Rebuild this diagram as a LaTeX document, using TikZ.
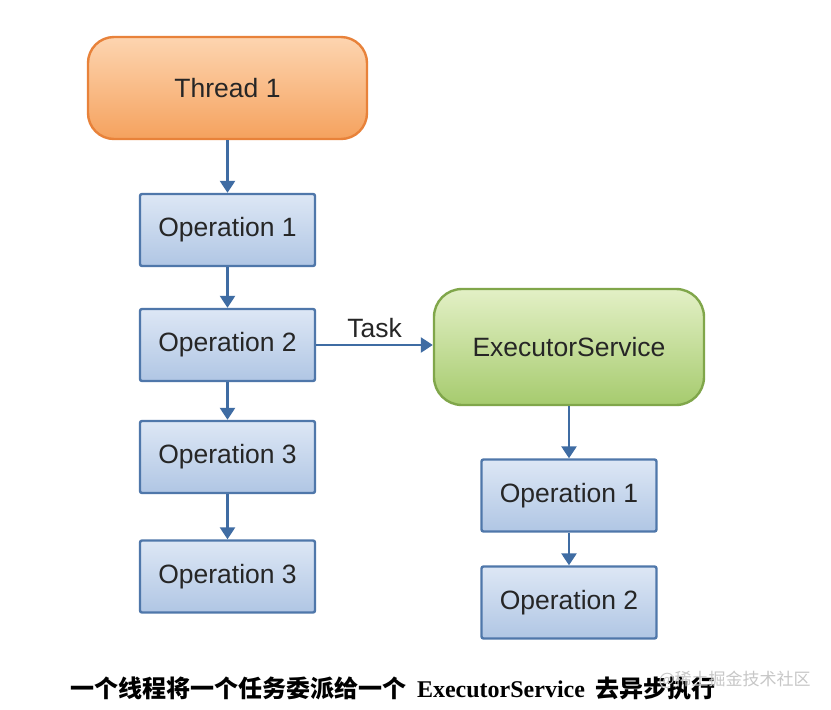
\documentclass[tikz,border=0pt]{standalone}
\usepackage{fontspec}
\setmainfont{Liberation Sans}
\newfontfamily\cjk{Noto Sans CJK SC}
\newfontfamily\tms{Liberation Serif}
\usetikzlibrary{arrows.meta}
\definecolor{arrowc}{HTML}{3F6CA3}
\definecolor{opborder}{HTML}{4F77AA}
\definecolor{optop}{HTML}{DDE7F5}
\definecolor{opbot}{HTML}{B0C6E4}
\definecolor{thborder}{HTML}{E8823A}
\definecolor{thtop}{HTML}{FDD5B0}
\definecolor{thbot}{HTML}{F5A25E}
\definecolor{esborder}{HTML}{80A64A}
\definecolor{estop}{HTML}{E3F0C6}
\definecolor{esbot}{HTML}{A6CB6E}
\tikzset{
  opbox/.style={draw=opborder, line width=2.4pt, top color=optop, bottom color=opbot,
    minimum width=175pt, minimum height=72pt, rounded corners=2pt, inner sep=0pt,
    font=\fontsize{26.5}{30}\selectfont, text=black!85},
  thbox/.style={draw=thborder, line width=2.4pt, top color=thtop, bottom color=thbot,
    minimum width=279pt, minimum height=102pt, rounded corners=26pt, inner sep=0pt,
    font=\fontsize{26.5}{30}\selectfont, text=black!85},
  esbox/.style={draw=esborder, line width=2.4pt, top color=estop, bottom color=esbot,
    minimum width=270pt, minimum height=116pt, rounded corners=28pt, inner sep=0pt,
    font=\fontsize{26.5}{30}\selectfont, text=black!85},
  flow/.style={draw=arrowc, line width=2.6pt, -{Triangle[length=12pt,width=15pt]}},
}
\begin{document}
\begin{tikzpicture}[x=1pt,y=-1pt]
\useasboundingbox[fill=white] (0,0) rectangle (831,710);
\node[thbox] (th) at (227.5,88) {Thread 1};
\node[opbox] (o1) at (227.5,230) {Operation 1};
\node[opbox] (o2) at (227.5,345) {Operation 2};
\node[opbox] (o3) at (227.5,457) {Operation 3};
\node[opbox] (o4) at (227.5,576.5) {Operation 3};
\node[esbox] (es) at (569,347) {ExecutorService};
\node[opbox] (r1) at (569,495.5) {Operation 1};
\node[opbox] (r2) at (569,602.5) {Operation 2};
\draw[flow] (th) -- (o1);
\draw[flow] (o1) -- (o2);
\draw[flow] (o2) -- (o3);
\draw[flow] (o3) -- (o4);
\draw[flow] (es) -- (r1);
\draw[flow] (r1) -- (r2);
\draw[flow] (o2.east) -- node[above=3pt, font=\fontsize{26.5}{30}\selectfont, text=black!85] (tl) {Task} (o2.east -| es.west);
\node[font=\fontsize{24}{28}\selectfont\bfseries] (cap) at (393,688) {\cjk 一个线程将一个任务委派给一个\ \ {\tms ExecutorService}\ \ 去异步执行};
\node[font=\fontsize{17}{20}\selectfont, text=black!22, anchor=west] (wm) at (655,680) {\cjk @稀土掘金技术社区};
\end{tikzpicture}
\end{document}
